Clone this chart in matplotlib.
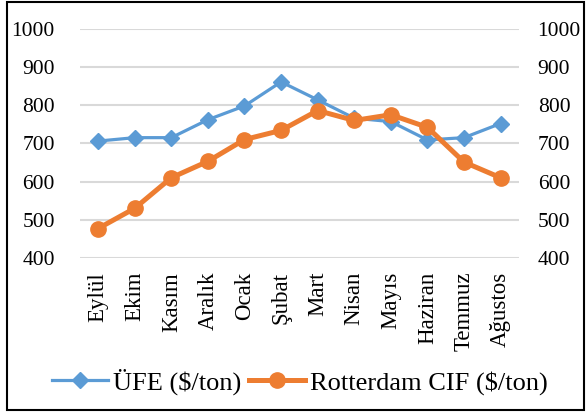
import matplotlib.pyplot as plt
from matplotlib.patches import Rectangle

plt.rcParams['font.family'] = ['Liberation Serif', 'DejaVu Serif']

months = ['Eylül', 'Ekim', 'Kasım', 'Aralık', 'Ocak', 'Şubat', 'Mart',
          'Nisan', 'Mayıs', 'Haziran', 'Temmuz', 'Ağustos']
ufe = [706, 715, 715, 762, 798, 861, 814, 766, 757, 709, 715, 752]
rotterdam = [477, 530, 610, 653, 710, 734, 786, 760, 775, 742, 651, 610]
yticks = [400, 500, 600, 700, 800, 900, 1000]

fig = plt.figure(figsize=(5.87, 4.12), dpi=100)
ax = fig.add_axes([0.136, 0.374, 0.748, 0.556])

x = range(len(months))
ax.plot(x, ufe, color='#5B9BD5', lw=2.3, marker='D', ms=8, label='ÜFE ($/ton)')
ax.plot(x, rotterdam, color='#ED7D31', lw=3.6, marker='o', ms=11,
        label='Rotterdam CIF ($/ton)')

ax.set_ylim(400, 1000)
ax.set_xlim(-0.5, len(months) - 0.5)
ax.set_yticks(yticks)
ax.set_xticks(list(x))
ax.set_xticklabels(months, rotation=90, fontsize=16.5)
ax.tick_params(axis='y', labelsize=15.5, length=0, pad=18)
ax.tick_params(axis='x', length=0, pad=10)
ax.grid(axis='y', color='#D9D9D9', lw=1.5)
ax.set_axisbelow(True)
for s in ax.spines.values():
    s.set_visible(False)

ax2 = ax.twinx()
ax2.set_ylim(400, 1000)
ax2.set_yticks(yticks)
ax2.tick_params(axis='y', labelsize=15.5, length=0, pad=13.5)
for s in ax2.spines.values():
    s.set_visible(False)

fig.legend(loc='center', bbox_to_anchor=(0.511, 0.073), ncol=2, frameon=False,
           fontsize=19, handlelength=2.1, columnspacing=0.3, handletextpad=0.2,
           borderaxespad=0)

fig.patches.append(Rectangle((0.012, 0.005), 0.983, 0.99, transform=fig.transFigure,
                             fill=False, edgecolor='black', lw=1.5))

fig.savefig('out.png', dpi=100)
